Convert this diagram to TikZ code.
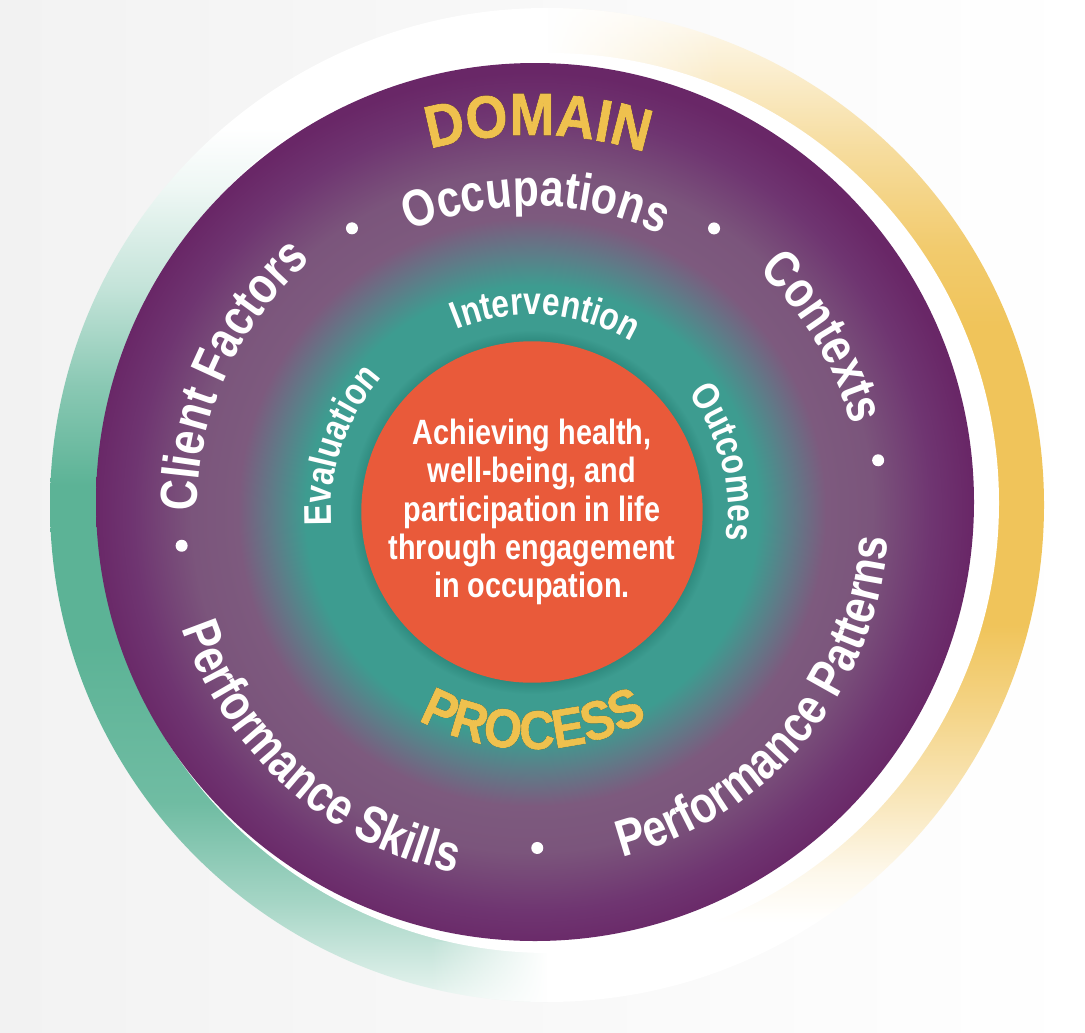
\documentclass[tikz,border=0pt]{standalone}
\usepackage{fontspec}
\usetikzlibrary{decorations.text, fadings}

\newfontfamily\condfont{Liberation Sans}[FakeStretch=0.82]
\newfontfamily\heavyfont{Liberation Sans}[FakeStretch=0.9, FakeBold=1.2]
\newcommand\ringtxt{\condfont\bfseries\fontsize{14.8}{17}\selectfont}
\newcommand\innertxt{\condfont\bfseries\fontsize{11}{13}\selectfont}
\newcommand\coretxt{\condfont\bfseries\fontsize{10}{10.9}\selectfont}
\newcommand\titletxt{\heavyfont\bfseries\fontsize{17}{19}\selectfont}
\newcommand\proctxt{\heavyfont\bfseries\fontsize{15.5}{18}\selectfont}

\definecolor{bggray}{HTML}{F2F2F2}
\definecolor{tealring}{HTML}{5CB396}
\definecolor{ringyellow}{HTML}{F0C45A}
\definecolor{discteal}{HTML}{3D9C90}
\definecolor{discdark}{HTML}{2B867A}
\definecolor{discmid}{HTML}{5E7C88}
\definecolor{mauve}{HTML}{7D5A7E}
\definecolor{purpmid}{HTML}{6F3571}
\definecolor{purpedge}{HTML}{692767}
\definecolor{corered}{HTML}{E95A3A}
\definecolor{titlegold}{HTML}{EFC14E}
\definecolor{domshadow}{HTML}{2E1230}
\definecolor{procshadow}{HTML}{1C4F47}

\pgfdeclareverticalshading{tealring}{100bp}{color(0bp)=(tealring!12); color(25bp)=(tealring!12); color(30bp)=(tealring!55); color(35bp)=(tealring!88); color(43bp)=(tealring); color(51bp)=(tealring); color(56bp)=(tealring!72); color(61bp)=(tealring!36); color(66bp)=(tealring!10); color(69bp)=(white); color(100bp)=(white)}
\pgfdeclareverticalshading{yellowring}{100bp}{color(0bp)=(white); color(29bp)=(white); color(31.5bp)=(ringyellow!12); color(35bp)=(ringyellow!40); color(40bp)=(ringyellow!75); color(44bp)=(ringyellow); color(59bp)=(ringyellow); color(63bp)=(ringyellow!88); color(68bp)=(ringyellow!58); color(72.5bp)=(ringyellow!25); color(75bp)=(ringyellow!8); color(100bp)=(ringyellow!8)}
\pgfdeclareradialshading{discshade}{\pgfpoint{0bp}{0bp}}{color(0bp)=(discdark); color(9.1bp)=(discdark); color(9.9bp)=(discteal); color(12.3bp)=(discteal); color(14.1bp)=(discmid); color(16bp)=(mauve); color(18.5bp)=(mauve!90!purpedge); color(21.7bp)=(purpmid); color(23.9bp)=(purpedge); color(50bp)=(purpedge)}

\tikzset{
  ringlabel/.style={decorate, decoration={text along path, text align=center, text color=white, text={|\ringtxt|#1}}},
  innerlabel/.style={decorate, decoration={text along path, text align=center, text color=white, text={|\innertxt|#1}}},
  titlelabel/.style 2 args={decorate, decoration={text along path, text align=center, text color=#2, text={|\titletxt|#1}}},
  proclabel/.style 2 args={decorate, decoration={text along path, text align=center, text color=#2, text={|\proctxt|#1}}},
  ringdot/.style={fill=white},
  core/.style={circle, fill=corered, minimum size=3.34cm, inner sep=0pt, align=center, text=white, font=\coretxt}
}

\begin{document}
\begin{tikzpicture}[x=0.01cm, y=0.01cm]
\useasboundingbox (0,0) rectangle (1085,1032);
\coordinate (O) at (547,527);
\coordinate (W) at (549,529);
\coordinate (P) at (535,530);
\coordinate (C) at (532,520);

\shade[left color=bggray, right color=white] (0,0) rectangle (1085,1032);

% outer ring
\begin{scope}
\clip (0,0) rectangle (547,1032);
\shade[shading=tealring] (O) circle[radius=497];
\end{scope}
\begin{scope}
\clip (547,0) rectangle (1085,1032);
\shade[shading=yellowring] (O) circle[radius=497];
\end{scope}
\begin{scope}
\clip (O) circle[radius=497];
\fill[white, path fading=east] (547,950) rectangle (720,1032);
\fill[white, path fading=west] (430,0) rectangle (547,90);
\end{scope}
\fill[white] (W) circle[radius=450];

% domain disc
\begin{scope}
\clip (P) circle[radius=439];
\shade[shading=discshade] (C) circle[radius=460];
\end{scope}

\node[core] (core) at (C) {Achieving health,\\well-being, and\\participation in life\\through engagement\\in occupation.};

\foreach \a/\r in {122.4/336, 57.3/337, 8.5/350, 185.5/352, -89.1/336}
  \fill[ringdot] ([shift={(\a:\r)}]C) circle[radius=6];

\path[titlelabel={DOMAIN}{domshadow!60!purpedge}, xshift=1.6pt, yshift=-1.6pt] ([shift={(134.1:377)}]C) arc[start angle=134.1, end angle=44.1, radius=377];
\path[titlelabel={DOMAIN}{domshadow}, xshift=0.9pt, yshift=-0.9pt] ([shift={(134.1:377)}]C) arc[start angle=134.1, end angle=44.1, radius=377];
\path[titlelabel={DOMAIN}{titlegold}] ([shift={(134.1:377)}]C) arc[start angle=134.1, end angle=44.1, radius=377];

\path[ringlabel=Occupations] ([shift={(149.3:306)}]C) arc[start angle=149.3, end angle=29.3, radius=306];
\path[ringlabel=Contexts] ([shift={(86:331)}]C) arc[start angle=86, end angle=-24, radius=331];
\path[ringlabel=Client Factors] ([shift={(210.6:335)}]C) arc[start angle=210.6, end angle=100.6, radius=335];
\path[ringlabel=Performance Patterns] ([shift={(-114.8:357)}]C) arc[start angle=-114.8, end angle=35.2, radius=357];
\path[ringlabel=Performance Skills] ([shift={(158.2:369)}]C) arc[start angle=158.2, end angle=298.2, radius=369];

\path[innerlabel=Intervention] ([shift={(156:197)}]C) arc[start angle=156, end angle=16, radius=197];
\path[innerlabel=Evaluation] ([shift={(221:201)}]C) arc[start angle=221, end angle=101, radius=201];
\path[innerlabel=Outcomes] ([shift={(74.5:196)}]C) arc[start angle=74.5, end angle=-45.5, radius=196];

\path[proclabel={PROCESS}{procshadow!60!discteal}, xshift=-1.5pt, yshift=-1.5pt] ([shift={(210.3:237)}]C) arc[start angle=210.3, end angle=330.3, radius=237];
\path[proclabel={PROCESS}{procshadow}, xshift=-0.8pt, yshift=-0.8pt] ([shift={(210.3:237)}]C) arc[start angle=210.3, end angle=330.3, radius=237];
\path[proclabel={PROCESS}{titlegold}] ([shift={(210.3:237)}]C) arc[start angle=210.3, end angle=330.3, radius=237];
\end{tikzpicture}
\end{document}
